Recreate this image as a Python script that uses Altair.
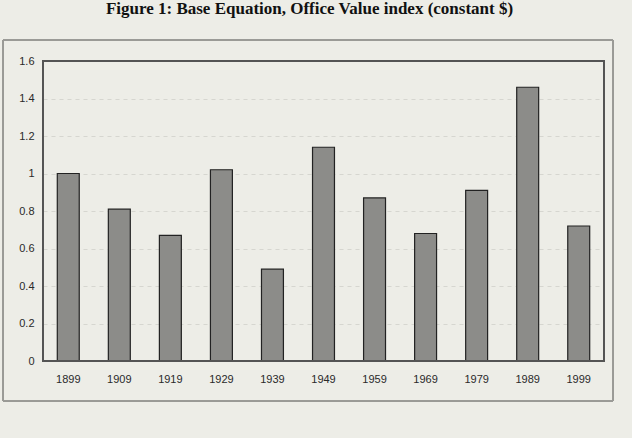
import altair as alt
import pandas as pd

years = ["1899", "1909", "1919", "1929", "1939", "1949", "1959", "1969", "1979", "1989", "1999"]
values = [1.00, 0.81, 0.67, 1.02, 0.49, 1.14, 0.87, 0.68, 0.91, 1.46, 0.72]
y_ticks = [0, 0.2, 0.4, 0.6, 0.8, 1.0, 1.2, 1.4, 1.6]

df = pd.DataFrame({"year": years, "value": values})

bg = "#ededE7"

bars = alt.Chart(df).mark_bar(
    color="#8c8c89", stroke="#222222", strokeWidth=1.2
).encode(
    x=alt.X("year:N", sort=years, title=None,
            scale=alt.Scale(paddingInner=0.57, paddingOuter=0.28),
            axis=alt.Axis(labelAngle=0, ticks=False, domain=False, labelPadding=12,
                          labelFont="Liberation Sans", labelFontSize=11, labelColor="#2a2a2a")),
    y=alt.Y("value:Q", title=None,
            scale=alt.Scale(domain=[0, 1.6], nice=False),
            axis=alt.Axis(values=y_ticks, format="~g", ticks=False, domain=False, labelPadding=9,
                          labelFont="Liberation Sans", labelFontSize=11, labelColor="#2a2a2a",
                          grid=True, gridDash=[4, 4], gridColor="#cfcfca", gridWidth=0.8)),
)

frame = alt.Chart(df).mark_rect(fill=None, stroke="#9a9a96", strokeWidth=1).encode(
    x=alt.value(-40), x2=alt.value(570), y=alt.value(-21), y2=alt.value(340)
)

plot_border = alt.Chart(df).mark_rect(fill=None, stroke="#555555", strokeWidth=1.2).encode(
    x=alt.value(0), x2=alt.value(561), y=alt.value(0), y2=alt.value(300)
)

chart = alt.layer(frame, bars, plot_border).properties(
    width=561, height=300,
    background=bg,
    autosize=alt.AutoSizeParams(type="none"),
    padding={"left": 43, "top": 61, "right": 28, "bottom": 77},
    title=alt.TitleParams("Figure 1: Base Equation, Office Value index (constant $)",
                          font="Liberation Serif", fontSize=17, fontWeight="bold",
                          color="#111111", anchor="middle", offset=22, dx=-14),
).configure_view(stroke=None)

chart.save("out.html", embed_options={"renderer": "svg", "actions": False})
